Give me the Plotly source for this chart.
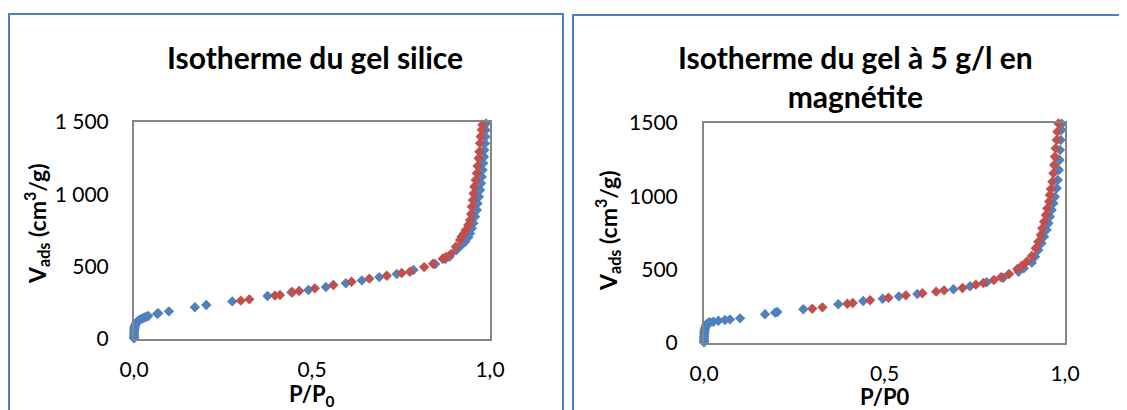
import plotly.graph_objects as go

# ---------------- data ----------------
# Left chart: "Isotherme du gel silice"
silice_ads_p = [0.00002, 0.00005, 0.0001, 0.0002, 0.0004, 0.0007, 0.001, 0.0015, 0.002, 0.003,
                0.005, 0.008, 0.012, 0.017, 0.022, 0.027, 0.031, 0.036, 0.040, 0.065, 0.068,
                0.098, 0.171, 0.203, 0.276, 0.375, 0.442, 0.49, 0.539, 0.595, 0.64, 0.689,
                0.738, 0.785, 0.846, 0.874, 0.886, 0.906, 0.92, 0.93, 0.939, 0.944, 0.949,
                0.953, 0.958, 0.963, 0.965, 0.969, 0.972, 0.975, 0.977, 0.979, 0.981, 0.983,
                0.984, 0.986, 0.987, 0.988, 0.989]
silice_ads_v = [5, 12, 20, 30, 42, 55, 66, 76, 85, 95, 106, 115, 126, 134, 140, 146, 150, 155,
                159, 174, 178, 191, 219, 235, 260, 297, 323, 339, 359, 385, 405, 428, 449, 477,
                518, 553, 569, 615, 650, 672, 703, 730, 765, 800, 845, 891, 937, 983, 1030,
                1076, 1121, 1168, 1214, 1260, 1306, 1352, 1398, 1444, 1490]
silice_des_p = [0.30, 0.324, 0.396, 0.41, 0.445, 0.464, 0.508, 0.56, 0.611, 0.661, 0.71, 0.752,
                0.775, 0.815, 0.84, 0.867, 0.876, 0.89, 0.904, 0.916, 0.92, 0.927, 0.932, 0.939,
                0.944, 0.947, 0.949, 0.952, 0.954, 0.956, 0.96, 0.963, 0.965, 0.968, 0.97,
                0.972, 0.974, 0.977, 0.979]
silice_des_v = [265, 274, 300, 304, 323, 332, 350, 373, 396, 417, 437, 456, 465, 497, 520, 555,
                567, 587, 638, 684, 707, 730, 753, 788, 822, 864, 914, 960, 1006, 1052, 1099,
                1145, 1196, 1249, 1295, 1353, 1400, 1446, 1481]

# Right chart: "Isotherme du gel à 5 g/l en magnétite"
magn_ads_p = [0.00002, 0.00005, 0.0001, 0.0002, 0.0004, 0.0007, 0.001, 0.0015, 0.002, 0.003,
              0.005, 0.007, 0.01, 0.014, 0.017, 0.026, 0.04, 0.058, 0.072, 0.1, 0.169, 0.197,
              0.203, 0.275, 0.372, 0.441, 0.495, 0.54, 0.591, 0.691, 0.737, 0.783, 0.829,
              0.871, 0.886, 0.908, 0.917, 0.926, 0.935, 0.942, 0.949, 0.954, 0.958, 0.963,
              0.968, 0.972, 0.977, 0.98, 0.983, 0.985, 0.986, 0.988, 0.99, 0.991]
magn_ads_v = [5, 12, 22, 33, 45, 58, 70, 82, 92, 102, 118, 126, 134, 138, 141, 145, 152, 157,
              161, 168, 196, 207, 211, 230, 264, 286, 302, 318, 334, 366, 387, 414, 445, 486,
              509, 548, 588, 634, 680, 725, 771, 816, 861, 907, 952, 997, 1055, 1111, 1180,
              1248, 1316, 1384, 1452, 1495]
magn_des_p = [0.3, 0.328, 0.397, 0.412, 0.46, 0.511, 0.559, 0.605, 0.643, 0.665, 0.716, 0.753,
              0.774, 0.803, 0.823, 0.845, 0.868, 0.88, 0.894, 0.908, 0.919, 0.926, 0.933,
              0.937, 0.942, 0.947, 0.951, 0.956, 0.958, 0.961, 0.965, 0.968, 0.97, 0.972,
              0.974, 0.977, 0.979, 0.982]
magn_des_v = [234, 243, 268, 273, 291, 309, 325, 339, 350, 359, 375, 398, 409, 430, 448, 470,
              505, 525, 554, 593, 646, 691, 736, 782, 827, 873, 918, 964, 1009, 1050, 1100,
              1157, 1214, 1270, 1327, 1384, 1441, 1497]

x_tickvals = [0.0, 0.5, 1.0]
x_ticktext = ["0,0", "0,5", "1,0"]
y_tickvals = [0, 500, 1000, 1500]
y_ticktext_left = ["0", "500", "1 000", "1 500"]
y_ticktext_right = ["0", "500", "1000", "1500"]

title_left = "<b>Isotherme du gel silice</b>"
title_right = "<b>Isotherme du gel à 5 g/l en<br>magnétite</b>"
xtitle_left = "<b>P/P<sub>0</sub></b>"
xtitle_right = "<b>P/P0</b>"
ytitle = "<b>V<sub>ads</sub> (cm<sup>3</sup>/g)</b>"

# ---------------- layout helpers ----------------
# the page body has an 8px margin, so the figure starts at screen (8, 8)
OFF = 8
W, H = 1127 - OFF, 410 - OFF
def px(x):
    return (x - OFF) / W
def py(y):
    return 1 - (y - OFF) / H

BLUE = "#4F81BD"
RED = "#C0504D"
FONT = "Lato"

fig = go.Figure()

def add_series(p, v, color, xa, ya):
    fig.add_trace(go.Scatter(
        x=p, y=v, mode="markers", xaxis=xa, yaxis=ya, cliponaxis=False,
        marker=dict(symbol="diamond", size=8, color=color, line=dict(width=0)),
        showlegend=False, hoverinfo="x+y"))

add_series(silice_ads_p, silice_ads_v, BLUE, "x", "y")
add_series(silice_des_p, silice_des_v, RED, "x", "y")
add_series(magn_ads_p, magn_ads_v, BLUE, "x2", "y2")
add_series(magn_des_p, magn_des_v, RED, "x2", "y2")

axis_common = dict(showgrid=False, zeroline=False, showline=True, mirror=True,
                   linecolor="#868686", linewidth=2, ticks="", automargin=False,
                   tickfont=dict(family=FONT, size=21, color="#000000"))

fig.update_layout(
    width=W, height=H, autosize=False,
    margin=dict(l=0, r=0, t=0, b=0, pad=0, autoexpand=False),
    paper_bgcolor="white", plot_bgcolor="white",
    font=dict(family=FONT, color="#000000"),
    xaxis=dict(domain=[px(134), px(490)], range=[0, 1], anchor="y",
               tickvals=x_tickvals, ticktext=x_ticktext, ticklabelstandoff=11, **axis_common),
    yaxis=dict(domain=[py(339), py(122)], range=[0, 1500], anchor="x",
               tickvals=y_tickvals, ticktext=y_ticktext_left, ticklabelstandoff=19, **axis_common),
    xaxis2=dict(domain=[px(704), px(1065)], range=[0, 1], anchor="y2",
                tickvals=x_tickvals, ticktext=x_ticktext, ticklabelstandoff=11, **axis_common),
    yaxis2=dict(domain=[py(343), py(123)], range=[0, 1500], anchor="x2",
                tickvals=y_tickvals, ticktext=y_ticktext_right, ticklabelstandoff=20, **axis_common),
)

# panel borders (chart areas)
border = dict(color="#4F81BD", width=2)
fig.add_shape(type="rect", xref="paper", yref="paper", x0=px(9), x1=px(563),
              y0=py(430), y1=py(14), line=border, layer="below")
fig.add_shape(type="rect", xref="paper", yref="paper", x0=px(573), x1=px(1150),
              y0=py(430), y1=py(15), line=border, layer="below")

def ann(text, x, y, size, angle=0):
    fig.add_annotation(text=text, xref="paper", yref="paper", x=px(x), y=py(y),
                       xanchor="center", yanchor="middle", showarrow=False,
                       textangle=angle, font=dict(family=FONT, size=size, color="#000000"))

ann(title_left, 315, 57, 30)
ann(title_right, 855, 76, 30)
ann(xtitle_left, 312, 395, 22)
ann(xtitle_right, 884, 396, 22)
ann(ytitle, 36, 224, 23, -90)
ann(ytitle, 607, 231, 23, -90)

fig.write_html("out.html")
